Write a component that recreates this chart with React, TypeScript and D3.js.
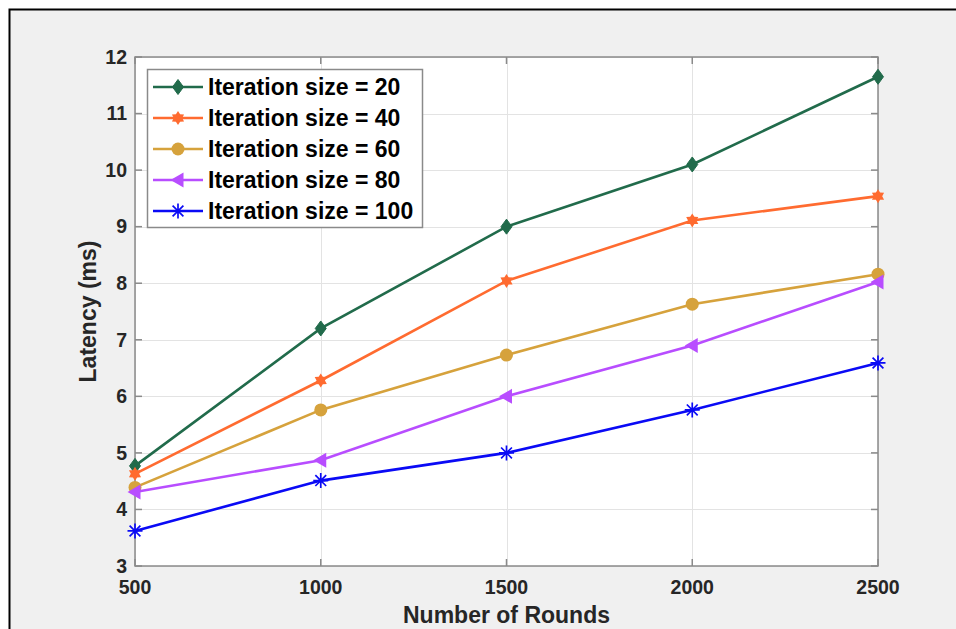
import React, { useEffect, useRef } from "react";
import * as d3 from "d3";

// rounds on the x axis
const rounds = [500, 1000, 1500, 2000, 2500];

// latency (ms) per iteration size
const iter20 = [4.77, 7.2, 9.0, 10.1, 11.65];
const iter40 = [4.63, 6.28, 8.04, 9.11, 9.54];
const iter60 = [4.39, 5.76, 6.73, 7.63, 8.16];
const iter80 = [4.31, 4.87, 6.0, 6.9, 8.02];
const iter100 = [3.62, 4.51, 5.0, 5.76, 6.59];

const seriesNames = [
  "Iteration size = 20",
  "Iteration size = 40",
  "Iteration size = 60",
  "Iteration size = 80",
  "Iteration size = 100",
];
const seriesColors = ["#216b4b", "#ff6b30", "#d6a23c", "#b84dff", "#0a0af5"];
const seriesMarkers = ["diamond", "hexagram", "circle", "triangleLeft", "asterisk"];

const yTicks = [3, 4, 5, 6, 7, 8, 9, 10, 11, 12];

const W = 956;
const H = 629;
const FONT = "'Liberation Sans', Arial, Helvetica, sans-serif";

function drawMarker(g: any, type: string, x: number, y: number, color: string) {
  if (type === "diamond") {
    g.append("path")
      .attr("d", `M${x},${y - 7.5}L${x + 5.5},${y}L${x},${y + 7.5}L${x - 5.5},${y}Z`)
      .attr("fill", color)
      .attr("stroke", color)
      .attr("stroke-width", 1);
  } else if (type === "circle") {
    g.append("circle").attr("cx", x).attr("cy", y).attr("r", 6.5).attr("fill", color);
  } else if (type === "hexagram") {
    const r = 7;
    const pts: string[] = [];
    for (let i = 0; i < 12; i++) {
      const a = (Math.PI / 6) * i - Math.PI / 2;
      const rr = i % 2 === 0 ? r : r * 0.6;
      pts.push(`${x + rr * Math.cos(a)},${y + rr * Math.sin(a)}`);
    }
    g.append("path").attr("d", "M" + pts.join("L") + "Z").attr("fill", color);
  } else if (type === "triangleLeft") {
    g.append("path")
      .attr("d", `M${x - 7.5},${y}L${x + 5.5},${y - 7.5}L${x + 5.5},${y + 7.5}Z`)
      .attr("fill", color);
  } else if (type === "asterisk") {
    const r = 7.5;
    const d = r * 0.72;
    g.append("path")
      .attr("d", `M${x},${y - r}V${y + r}M${x - r},${y}H${x + r}M${x - d},${y - d}L${x + d},${y + d}M${x - d},${y + d}L${x + d},${y - d}`)
      .attr("stroke", color)
      .attr("stroke-width", 1.7)
      .attr("fill", "none");
  }
}

export default function App() {
  const ref = useRef<SVGSVGElement>(null);

  useEffect(() => {
    const svg = d3.select(ref.current);
    svg.selectAll("*").remove();

    const left = 135, right = 878, top = 57, bottom = 566;
    const x = d3.scaleLinear().domain([500, 2500]).range([left, right]);
    const y = d3.scaleLinear().domain([3, 12]).range([bottom, top]);

    // background + frame
    svg.append("rect").attr("width", W).attr("height", H).attr("fill", "#ffffff");
    svg.append("rect").attr("x", 9).attr("y", 9).attr("width", W).attr("height", H).attr("fill", "#f0f0f0");
    svg.append("path").attr("d", `M9.5,${H}V9.5H${W}`).attr("stroke", "#000").attr("stroke-width", 2).attr("fill", "none");

    svg.append("rect")
      .attr("x", left).attr("y", top)
      .attr("width", right - left).attr("height", bottom - top)
      .attr("fill", "#ffffff");

    // grid
    const grid = svg.append("g").attr("stroke", "#e3e3e3").attr("stroke-width", 1);
    yTicks.forEach((t) => {
      grid.append("line").attr("x1", left).attr("x2", right).attr("y1", Math.round(y(t)) + 0.5).attr("y2", Math.round(y(t)) + 0.5);
    });
    rounds.forEach((t) => {
      grid.append("line").attr("y1", top).attr("y2", bottom).attr("x1", Math.round(x(t)) + 0.5).attr("x2", Math.round(x(t)) + 0.5);
    });

    // axes box + ticks
    const ax = svg.append("g").attr("stroke", "#8a8a8a").attr("stroke-width", 1.5).attr("fill", "none");
    ax.append("rect").attr("x", left).attr("y", top).attr("width", right - left).attr("height", bottom - top);
    yTicks.forEach((t) => {
      ax.append("line").attr("x1", left).attr("x2", left + 7).attr("y1", y(t)).attr("y2", y(t));
      ax.append("line").attr("x1", right - 7).attr("x2", right).attr("y1", y(t)).attr("y2", y(t));
    });
    rounds.forEach((t) => {
      ax.append("line").attr("x1", x(t)).attr("x2", x(t)).attr("y1", bottom).attr("y2", bottom - 7);
      ax.append("line").attr("x1", x(t)).attr("x2", x(t)).attr("y1", top).attr("y2", top + 7);
    });

    // tick labels
    const txt = svg.append("g").attr("font-family", FONT).attr("font-weight", "bold").attr("fill", "#262626");
    yTicks.forEach((t) => {
      txt.append("text").attr("x", 127).attr("y", y(t)).attr("dy", "0.35em")
        .attr("text-anchor", "end").attr("font-size", 19.5).text(String(t));
    });
    rounds.forEach((t) => {
      txt.append("text").attr("x", x(t)).attr("y", 594)
        .attr("text-anchor", "middle").attr("font-size", 19.5).text(String(t));
    });
    txt.append("text").attr("x", (left + right) / 2).attr("y", 623)
      .attr("text-anchor", "middle").attr("font-size", 23).text("Number of Rounds");
    txt.append("text").attr("transform", `translate(96,${(top + bottom) / 2}) rotate(-90)`)
      .attr("text-anchor", "middle").attr("font-size", 23).text("Latency (ms)");

    // series
    const allSeries = [iter20, iter40, iter60, iter80, iter100];
    const line = d3.line<number>().x((_, i) => x(rounds[i])).y((d) => y(d));
    allSeries.forEach((vals, si) => {
      const g = svg.append("g");
      g.append("path").attr("d", line(vals)).attr("fill", "none")
        .attr("stroke", seriesColors[si]).attr("stroke-width", 2.6);
      vals.forEach((v, i) => drawMarker(g, seriesMarkers[si], x(rounds[i]), y(v), seriesColors[si]));
    });

    // legend
    const lg = svg.append("g");
    lg.append("rect").attr("x", 147.5).attr("y", 69.5).attr("width", 275).attr("height", 158)
      .attr("fill", "#ffffff").attr("stroke", "#8a8a8a").attr("stroke-width", 1.5);
    seriesNames.forEach((name, si) => {
      const cy = 87 + si * 31;
      lg.append("line").attr("x1", 153).attr("x2", 203).attr("y1", cy).attr("y2", cy)
        .attr("stroke", seriesColors[si]).attr("stroke-width", 2.6);
      drawMarker(lg, seriesMarkers[si], 178, cy, seriesColors[si]);
      lg.append("text").attr("x", 208).attr("y", cy).attr("dy", "0.36em")
        .attr("font-family", FONT).attr("font-weight", "bold").attr("font-size", 23)
        .attr("fill", "#000").text(name);
    });
  }, []);

  return (
    <div style={{ position: "fixed", left: 0, top: 0 }}>
      <svg ref={ref} width={W} height={H} style={{ display: "block" }} />
    </div>
  );
}
